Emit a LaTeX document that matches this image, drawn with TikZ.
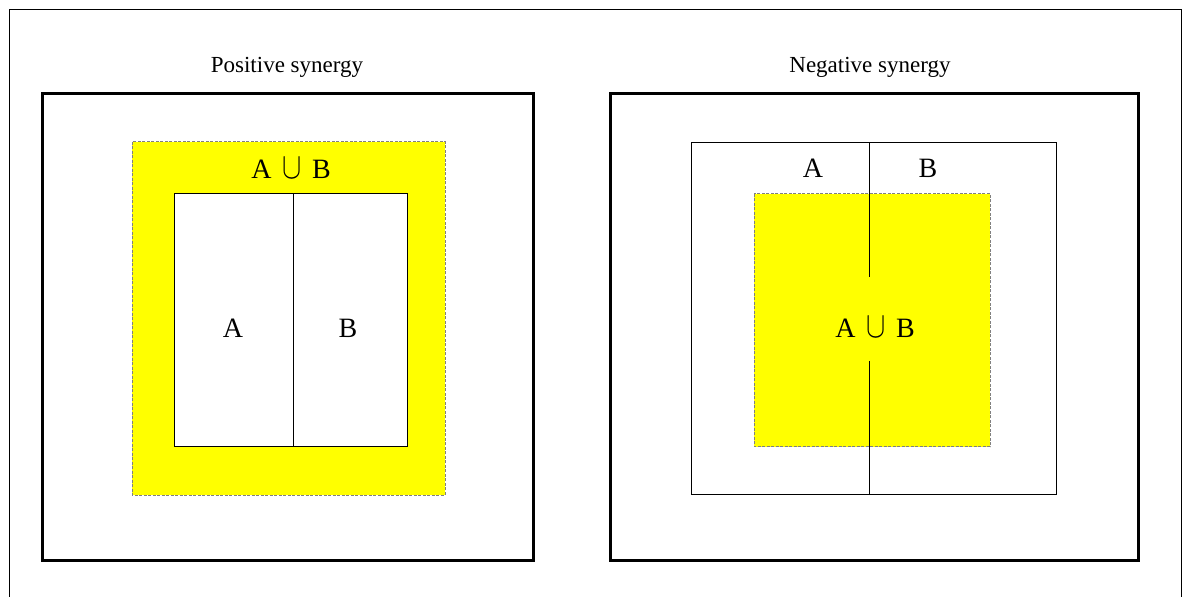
\documentclass[tikz,border=0pt]{standalone}
\usepackage{fontspec}
\setmainfont{Liberation Serif}
\newcommand{\unione}{A\hspace{0.38em}\scalebox{1}[1.28]{$\cup$}\hspace{0.38em}B}
\definecolor{giallopuro}{RGB}{255,255,0}
\tikzset{
  cornice/.style={line width=1.5pt},
  linea/.style={line width=0.5pt},
  giallo/.style={fill=giallopuro, draw=gray, line width=0.5pt, dash pattern=on 1.5pt off 0.75pt},
  titolo/.style={inner sep=0pt, font=\fontsize{11.5}{13}\selectfont},
  lettera/.style={inner sep=0pt, font=\fontsize{14}{16}\selectfont}
}
\begin{document}
\begin{tikzpicture}[x=0.5pt, y=-0.5pt]
\useasboundingbox (0,0) rectangle (1186,597);
% cornice esterna
\draw[linea] (9,597) -- (9,10) -- (1181,10) -- (1181,597);
% sinergia positiva
\node[titolo] (titolopos) at (287,67) {Positive synergy};
\draw[cornice] (42,94) rectangle (533,560);
\filldraw[giallo] (132,142) rectangle (445,495);
\draw[linea, fill=white] (174,194) rectangle (407,447);
\draw[linea] (293,194) -- (293,447);
\node[lettera] (unionepos) at (291,168) {\unione};
\node[lettera] (apos) at (233,328) {A};
\node[lettera] (bpos) at (348,328) {B};
% sinergia negativa
\node[titolo] (titoloneg) at (870,67) {Negative synergy};
\draw[cornice] (610,94) rectangle (1138,560);
\draw[linea] (691,143) rectangle (1056,494);
\filldraw[giallo] (754,194) rectangle (990,447);
\draw[linea] (869,143) -- (869,277);
\draw[linea] (869,361) -- (869,494);
\node[lettera] (aneg) at (813,168) {A};
\node[lettera] (bneg) at (928,168) {B};
\node[lettera] (unioneneg) at (875,327) {\unione};
\end{tikzpicture}
\end{document}
